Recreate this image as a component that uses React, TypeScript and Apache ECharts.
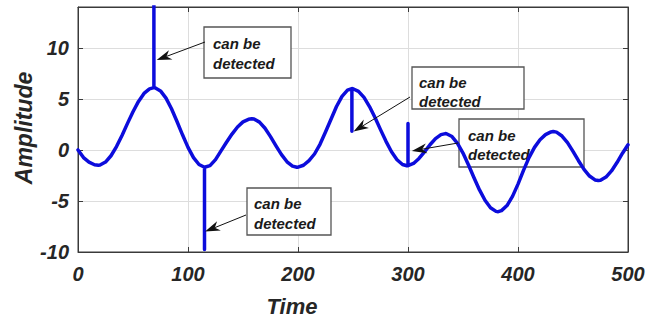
import React, { useEffect, useRef } from "react";
import * as echarts from "echarts";

// Time samples (spikes are repeated time values)
const time = [
  0, 5, 10, 15, 18.5, 20, 25, 30, 35, 40, 45, 50, 55, 60, 65, 69, 69, 69, 70, 75,
  80, 85, 90, 95, 100, 105, 110, 115, 115, 115, 120, 125, 130, 135, 140, 145, 150, 155, 158, 160,
  165, 170, 175, 180, 185, 190, 195, 199, 200, 205, 210, 215, 220, 225, 230, 235, 240, 245, 249, 249,
  249, 250, 255, 260, 265, 270, 275, 280, 285, 290, 295, 299, 300, 300, 300, 305, 310, 315, 320, 325,
  330, 334, 335, 340, 345, 350, 355, 360, 365, 370, 375, 380, 382, 385, 390, 395, 400, 405, 410, 415,
  420, 425, 430, 432, 435, 440, 445, 450, 455, 460, 465, 470, 473, 475, 480, 485, 490, 495, 500,
];
const amplitude = [
  0, -0.75, -1.2, -1.45, -1.5, -1.48, -1.19, -0.57, 0.33, 1.42, 2.6, 3.74, 4.75, 5.53, 5.98, 6.1, 20, 6.1, 6.09, 5.78,
  5.07, 4.03, 2.79, 1.48, 0.25, -0.76, -1.43, -1.7, -9.75, -1.7, -1.54, -0.95, -0.1, 0.75, 1.55, 2.25, 2.75, 3.0, 3.05, 3.02,
  2.72, 2.12, 1.3, 0.4, -0.46, -1.16, -1.59, -1.7, -1.69, -1.5, -1.05, -0.4, 0.55, 1.75, 3.0, 4.25, 5.25, 5.85, 6.0, 1.84,
  6.0, 5.99, 5.74, 5.14, 4.25, 3.17, 1.99, 0.84, -0.18, -0.96, -1.43, -1.55, -1.54, 2.6, -1.54, -1.33, -0.84, -0.19, 0.51, 1.11,
  1.5, 1.6, 1.59, 1.31, 0.65, -0.31, -1.48, -2.73, -3.92, -4.93, -5.66, -6.02, -6.05, -5.95, -5.45, -4.55, -3.35, -2.0, -0.75, 0.25,
  1.0, 1.5, 1.76, 1.8, 1.74, 1.36, 0.71, -0.14, -1.06, -1.91, -2.56, -2.94, -3.0, -2.97, -2.66, -2.06, -1.24, -0.32, 0.5,
];

const xTicks = [0, 100, 200, 300, 400, 500];
const yTicks = [-10, -5, 0, 5, 10];
const noteLines = ["can be", "detected"];
// arrow tips in data coordinates
const noteTipX = [71.5, 250.5, 303.5, 115.5];
const noteTipY = [8.8, 1.8, -0.1, -8.0];

// annotation layout (pixels)
const noteLayout = [
  { box: [204, 27, 87, 51], textX: 213, lineY: [43, 63], start: [205, 42] },
  { box: [412, 67, 112, 42], textX: 419, lineY: [82, 101], start: [410, 97] },
  { box: [459, 119, 125, 48], textX: 468, lineY: [135, 154], start: [458, 143] },
  { box: [247, 188, 84, 47], textX: 254, lineY: [203, 223], start: [246, 215] },
];

const FONT = "'Liberation Sans', Arial, Helvetica, sans-serif";

export default function App() {
  const ref = useRef<HTMLDivElement>(null);
  useEffect(() => {
    if (!ref.current) return;
    const chart = echarts.init(ref.current, undefined, { renderer: "svg" });
    const labelStyle = {
      fontSize: 20,
      fontWeight: "bold" as const,
      fontStyle: "italic" as const,
      fontFamily: FONT,
      color: "#262626",
    };
    chart.setOption({
      animation: false,
      backgroundColor: "#ffffff",
      grid: {
        left: 78,
        right: 37,
        top: 7,
        bottom: 70,
        show: true,
        borderColor: "#3a3a3a",
        borderWidth: 1,
        backgroundColor: "transparent",
      },
      xAxis: [
        {
          type: "value",
          min: 0,
          max: 500,
          interval: 100,
          position: "bottom",
          axisLine: { show: true, onZero: false, lineStyle: { color: "#3a3a3a", width: 1 } },
          axisTick: { show: true, inside: true, length: 5, lineStyle: { color: "#3a3a3a" } },
          axisLabel: {
            ...labelStyle,
            margin: 12,
            formatter: (v: number) => (xTicks.includes(v) ? String(v) : ""),
          },
          splitLine: { show: true, lineStyle: { color: "#dddddd", width: 1 } },
        },
        {
          type: "value",
          min: 0,
          max: 500,
          interval: 100,
          position: "top",
          axisLine: { show: true, onZero: false, lineStyle: { color: "#3a3a3a", width: 1 } },
          axisTick: { show: true, inside: true, length: 5, lineStyle: { color: "#3a3a3a" } },
          axisLabel: { show: false },
          splitLine: { show: false },
        },
      ],
      yAxis: [
        {
          type: "value",
          min: -10,
          max: 14,
          interval: 5,
          position: "left",
          axisLine: { show: true, onZero: false, lineStyle: { color: "#3a3a3a", width: 1 } },
          axisTick: { show: true, inside: true, length: 5, lineStyle: { color: "#3a3a3a" } },
          axisLabel: {
            ...labelStyle,
            margin: 9,
            formatter: (v: number) => (yTicks.includes(v) ? String(v) : ""),
          },
          splitLine: { show: true, lineStyle: { color: "#dddddd", width: 1 } },
        },
        {
          type: "value",
          min: -10,
          max: 14,
          interval: 5,
          position: "right",
          axisLine: { show: true, onZero: false, lineStyle: { color: "#3a3a3a", width: 1 } },
          axisTick: { show: true, inside: true, length: 5, lineStyle: { color: "#3a3a3a" } },
          axisLabel: { show: false },
          splitLine: { show: false },
        },
      ],
      series: [
        {
          type: "line",
          xAxisIndex: 0,
          yAxisIndex: 0,
          data: time.map((t, i) => [t, amplitude[i]]),
          showSymbol: false,
          symbol: "none",
          smooth: false,
          clip: true,
          z: 3,
          lineStyle: { color: "#0c0cdc", width: 3.5, join: "round", cap: "round" },
        },
      ],
    });

    const graphics: any[] = [];
    noteLayout.forEach((n, i) => {
      const [bx, by, bw, bh] = n.box;
      graphics.push({
        type: "rect",
        z: 1,
        shape: { x: bx, y: by, width: bw, height: bh },
        style: { fill: "#ffffff", stroke: "#555555", lineWidth: 1.3 },
      });
      noteLines.forEach((txt, j) => {
        graphics.push({
          type: "text",
          z: 1,
          z2: 10,
          x: n.textX,
          y: n.lineY[j],
          style: {
            text: txt,
            fontSize: 15,
            fontWeight: "bold",
            fontStyle: "italic",
            fontFamily: FONT,
            fill: "#1a1a1a",
            textAlign: "left",
            textVerticalAlign: "middle",
          },
        });
      });
      const tip = chart.convertToPixel({ gridIndex: 0 }, [noteTipX[i], noteTipY[i]]) as number[];
      const [sx, sy] = n.start;
      const dx = tip[0] - sx;
      const dy = tip[1] - sy;
      const len = Math.sqrt(dx * dx + dy * dy);
      const ux = dx / len;
      const uy = dy / len;
      const px = -uy;
      const py = ux;
      const L = 15;
      const W = 5;
      const bxp = tip[0] - ux * L;
      const byp = tip[1] - uy * L;
      const nx = tip[0] - ux * L * 0.7;
      const ny = tip[1] - uy * L * 0.7;
      graphics.push({
        type: "line",
        z: 5,
        shape: { x1: sx, y1: sy, x2: nx, y2: ny },
        style: { stroke: "#111111", lineWidth: 1 },
      });
      graphics.push({
        type: "polygon",
        z: 5,
        shape: {
          points: [
            [tip[0], tip[1]],
            [bxp + px * W, byp + py * W],
            [nx, ny],
            [bxp - px * W, byp - py * W],
          ],
        },
        style: { fill: "#111111" },
      });
    });
    graphics.push({
      type: "text",
      z: 5,
      x: 292,
      y: 306,
      style: {
        text: "Time",
        fontSize: 22,
        fontWeight: "bold",
        fontStyle: "italic",
        fontFamily: FONT,
        fill: "#262626",
        textAlign: "center",
        textVerticalAlign: "middle",
      },
    });
    graphics.push({
      type: "text",
      z: 5,
      x: 24,
      y: 128,
      rotation: Math.PI / 2,
      style: {
        text: "Amplitude",
        fontSize: 23,
        fontWeight: "bold",
        fontStyle: "italic",
        fontFamily: FONT,
        fill: "#262626",
        textAlign: "center",
        textVerticalAlign: "middle",
      },
    });
    chart.setOption({ graphic: graphics });

    return () => chart.dispose();
  }, []);
  return (
    <div
      ref={ref}
      style={{ position: "fixed", left: 0, top: 0, width: 665, height: 322, background: "#fff" }}
    />
  );
}
